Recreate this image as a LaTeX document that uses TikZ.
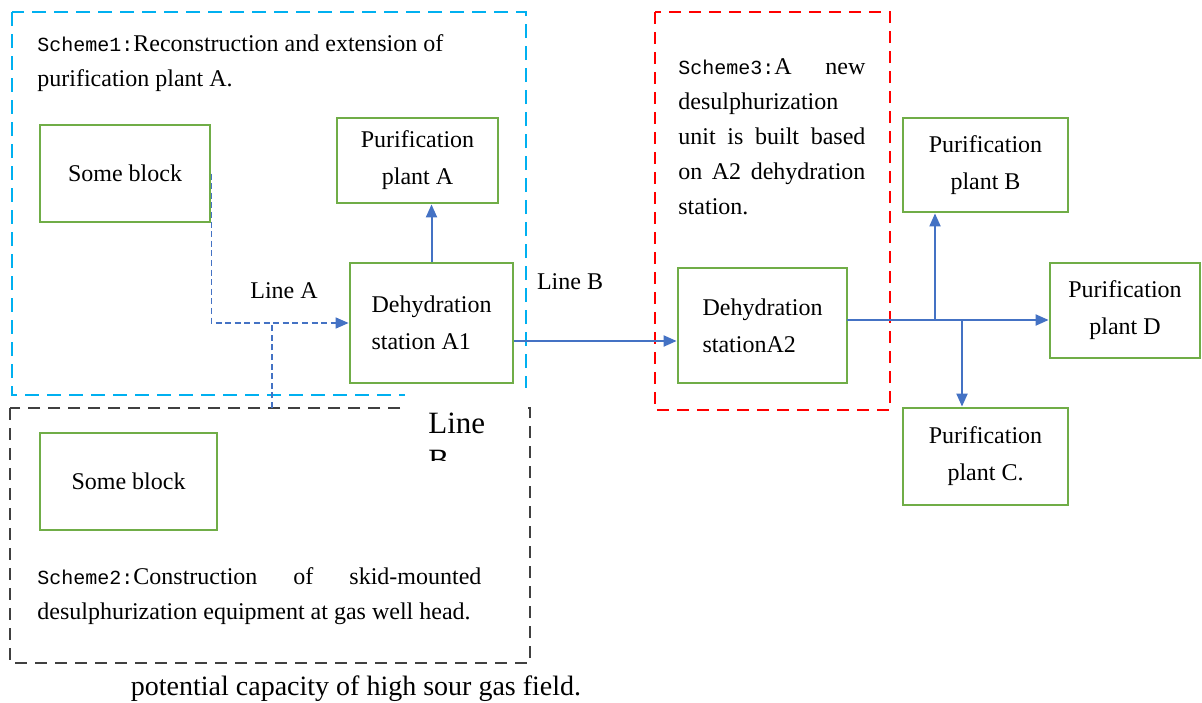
\documentclass[tikz,border=0pt]{standalone}
\usepackage{fontspec}
\setmainfont{Liberation Serif}
\newfontfamily\schfont{Liberation Mono}
\usetikzlibrary{arrows.meta}

\definecolor{boxgreen}{HTML}{70AD47}
\definecolor{flowblue}{HTML}{4472C4}
\definecolor{skyblue}{HTML}{00B0F0}
\definecolor{schemegray}{HTML}{404040}

\begin{document}
\begin{tikzpicture}[
        x=0.5pt, y=-0.5pt,
        gbox/.style={draw=boxgreen, line width=1.4pt, inner sep=2pt, align=center,
            font=\fontsize{12}{18.5}\selectfont},
        txt/.style={inner sep=0pt, align=left, anchor=north west,
            font=\fontsize{12}{17.5}\selectfont},
        flow/.style={draw=flowblue, line width=1pt},
        dflow/.style={draw=flowblue, line width=0.75pt, dash pattern=on 3pt off 1.8pt},
        >={Triangle[length=6.5pt,width=5.5pt]}]

        \useasboundingbox (0,0) rectangle (1202,702);

        % --- SCHEME FRAMES ---
        \draw[skyblue, line width=1pt, dash pattern=on 7pt off 4pt] (12,12) rectangle (526,395);
        \draw[schemegray, line width=1.1pt, dash pattern=on 6pt off 4pt] (10,408) rectangle (530,663);
        \draw[red, line width=1.3pt, dash pattern=on 6pt off 4pt] (655,12) rectangle (890,410);

        % white label box over the frame corners
        \begin{scope}
            \clip (405,388) rectangle (528,460);
            \fill[white] (405,388) rectangle (528,460);
            \node[inner sep=0pt, anchor=base west, font=\fontsize{15.5}{18.5}\selectfont] (lineBtop) at (428,433) {Line};
            \node[inner sep=0pt, anchor=base west, font=\fontsize{15.5}{18.5}\selectfont] (lineBbot) at (428,470) {B};
        \end{scope}

        % --- SCHEME TEXTS ---
        \node[txt] (s1text) at (37,34) {{\schfont\fontsize{10}{17.5}\selectfont Scheme1:}Reconstruction and extension of\\purification plant A.};
        \node[txt] (s3text) at (678,58) {\makebox[93.5pt][s]{{\schfont\fontsize{10}{17.5}\selectfont Scheme3:}A new}\\
            desulphurization\\
            \makebox[93.5pt][s]{unit is built based}\\
            \makebox[93.5pt][s]{on A2 dehydration}\\
            station.};
        \node[txt] (s2text) at (37,567) {\makebox[222pt][s]{{\schfont\fontsize{10}{17.5}\selectfont Scheme2:}Construction of skid-mounted}\\
            desulphurization equipment at gas well head.};

        % --- BLOCKS ---
        \node[gbox, minimum width=85pt, minimum height=48.5pt] (blockA) at (125,173.5) {Some block};
        \node[gbox, minimum width=88.5pt, minimum height=48.5pt] (blockB) at (128.5,481.5) {Some block};
        \node[gbox, minimum width=80.5pt, minimum height=42.5pt] (plantA) at (417.5,160.5) {Purification\\plant A};
        \node[gbox, align=left, minimum width=81.5pt, minimum height=60pt] (stationA1) at (431.5,323) {Dehydration\\station A1};
        \node[gbox, align=left, minimum width=84.5pt, minimum height=57.5pt] (stationA2) at (762.5,325.5) {Dehydration\\stationA2};
        \node[gbox, minimum width=82.5pt, minimum height=47pt] (plantB) at (985.5,165) {Purification\\plant B};
        \node[gbox, minimum width=75pt, minimum height=47.5pt] (plantD) at (1125,310.5) {Purification\\plant D};
        \node[gbox, minimum width=82.5pt, minimum height=48.5pt] (plantC) at (985.5,456.5) {Purification\\plant C.};

        % --- LINES ---
        \node[font=\fontsize{12}{14}\selectfont] (lineA) at (284,291) {Line A};
        \node[font=\fontsize{12}{14}\selectfont] (lineB) at (570,282) {Line B};

        \coordinate (joinA) at (272,323);
        \coordinate (s2top) at (272,408);
        \draw[dflow, ->] (blockA.east) |- (stationA1.west);
        \draw[dflow] (s2top) -- (joinA);

        \draw[flow, ->] (stationA1.north) -- (stationA1.north |- plantA.south);

        \coordinate (outA1) at ([yshift=-9pt]stationA1.east);
        \draw[flow, ->] (outA1) -- (outA1 -| stationA2.west);

        \coordinate (outA2) at (847,320);
        \coordinate (brB) at (935,320);
        \coordinate (brC) at (962,320);
        \draw[flow, ->] (outA2) -- (outA2 -| plantD.west);
        \draw[flow, ->] (brB) -- (brB |- plantB.south);
        \draw[flow, ->] (brC) -- (brC |- plantC.north);

        \node[font=\fontsize{14}{16}\selectfont] (caption) at (356,689) {potential capacity of high sour gas field.};

    \end{tikzpicture}
\end{document}
